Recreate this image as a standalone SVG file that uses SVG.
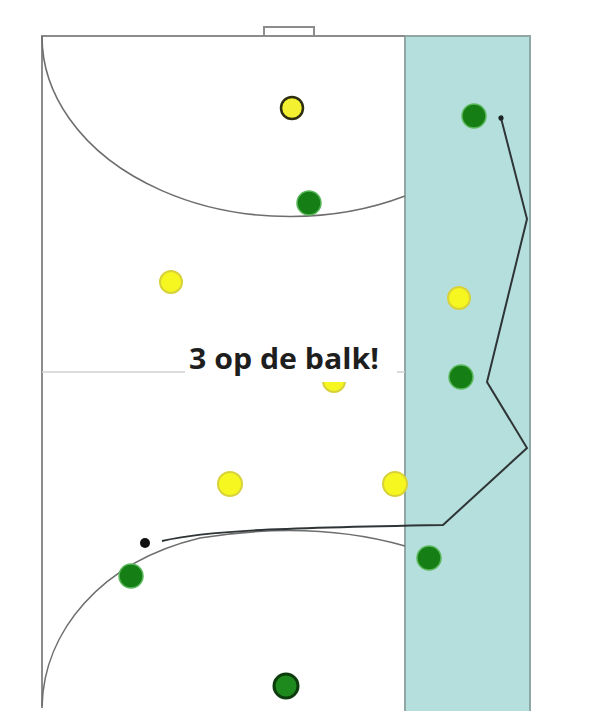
<svg xmlns="http://www.w3.org/2000/svg" width="603" height="711" viewBox="0 0 603 711">
  <defs>
    <style>
      .line { fill: none; stroke: #8c8c8c; stroke-width: 2; }
      .thin { fill: none; stroke: #d0d0d0; stroke-width: 1.5; }
      .arc { fill: none; stroke: #6e6e6e; stroke-width: 1.6; }
      .green { fill: #157f15; stroke: #5cb85c; stroke-width: 1.5; }
      .greenDark { fill: #1e8a1e; stroke: #0d3d0d; stroke-width: 3; }
      .yellow { fill: #f6f620; stroke: #d8d23a; stroke-width: 2; }
      .yellowDark { fill: #f2f030; stroke: #2e2e10; stroke-width: 2.5; }
      .path { fill: none; stroke: #2f3436; stroke-width: 2; stroke-linejoin: miter; }
      .label { font-family: "Open Sans", "Liberation Sans", sans-serif; font-weight: bold; font-size: 28px; fill: #1e1e1e; }
    </style>
    <marker id="arrow" markerWidth="6" markerHeight="6" refX="3" refY="3" orient="auto" markerUnits="userSpaceOnUse">
      <circle cx="3" cy="3" r="2.6" fill="#1e2426"/>
    </marker>
  </defs>
  <rect x="0" y="0" width="603" height="711" fill="#ffffff"/>

  <g id="court">
    <rect x="405" y="36" width="125" height="680" fill="#b4dfdc" stroke="#8fa8a6" stroke-width="2"/>
    <rect x="264" y="27" width="50" height="9" fill="none" stroke="#8c8c8c" stroke-width="2"/>
    <path class="line" d="M42 708 V36 H405"/>
    <line class="thin" x1="42" y1="372" x2="405" y2="372"/>
    <path class="arc" d="M42 36 A 248 180 0 0 0 405 196"/>
    <path class="arc" d="M42 706 C 44 632, 100 562, 200 538 C 262 528, 335 526, 405 546"/>
  </g>

  <g id="player-y5">
    <circle class="yellow" cx="334" cy="381" r="11"/>
  </g>

  <g id="label">
    <rect x="185" y="343" width="212" height="39" fill="#ffffff"/>
    <text class="label" x="189" y="369" textLength="190" lengthAdjust="spacingAndGlyphs">3 op de balk!</text>
  </g>

  <g id="connectors">
    <path class="path" d="M162 541 C 205 531, 270 528, 443 525 L 527 448 L 487 382 L 527 219 L 501 118" marker-end="url(#arrow)"/>
  </g>

  <g id="player-y1"><circle class="yellowDark" cx="292" cy="108" r="11"/></g>
  <g id="player-g1"><circle class="green" cx="474" cy="116" r="12"/></g>
  <g id="player-g2"><circle class="green" cx="309" cy="203" r="12"/></g>
  <g id="player-y2"><circle class="yellow" cx="171" cy="282" r="11"/></g>
  <g id="player-y3"><circle class="yellow" cx="459" cy="298" r="11"/></g>
  <g id="player-g3"><circle class="green" cx="461" cy="377" r="12"/></g>
  <g id="player-y4"><circle class="yellow" cx="230" cy="484" r="12"/></g>
  <g id="player-y6"><circle class="yellow" cx="395" cy="484" r="12"/></g>
  <g id="ball"><circle cx="145" cy="543" r="5" fill="#111111"/></g>
  <g id="player-g4"><circle class="green" cx="131" cy="576" r="12"/></g>
  <g id="player-g5"><circle class="green" cx="429" cy="558" r="12"/></g>
  <g id="player-g6"><circle class="greenDark" cx="286" cy="686" r="12"/></g>
</svg>
